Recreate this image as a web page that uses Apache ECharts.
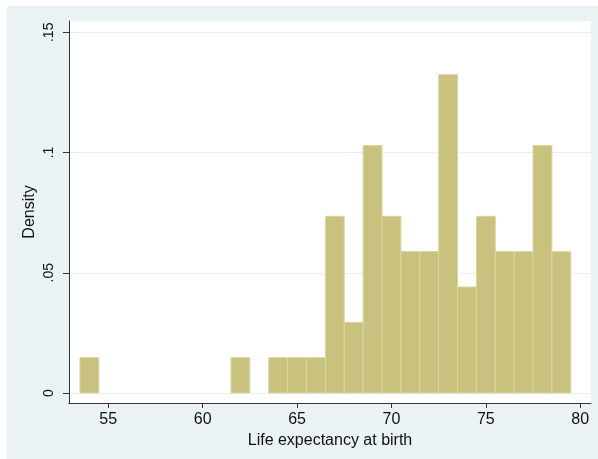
<!DOCTYPE html>
<html>
<head>
<meta charset="utf-8">
<script src="https://cdn.jsdelivr.net/npm/echarts@6/dist/echarts.min.js"></script>
<style>
html,body{margin:0;padding:0;background:#ffffff;}
#chart{width:598px;height:459px;}
</style>
</head>
<body>
<div id="chart"></div>
<script>
// Bin centers (years), bin width 1
const binCenters = [54, 62, 64, 65, 66, 67, 68, 69, 70, 71, 72, 73, 74, 75, 76, 77, 78, 79];
// Density
const densities = [0.0147, 0.0147, 0.0147, 0.0147, 0.0147, 0.0735, 0.0294, 0.1029, 0.0735, 0.0588, 0.0588, 0.1324, 0.0441, 0.0735, 0.0588, 0.0588, 0.1029, 0.0588];
const binWidth = 1;
// Tick values and labels
const xTicks = [55, 60, 65, 70, 75, 80];
const xTickLabels = ['55', '60', '65', '70', '75', '80'];
const yTicks = [0, 0.05, 0.1, 0.15];
const yTickLabels = ['0', '.05', '.1', '.15'];
const xTitle = 'Life expectancy at birth';
const yTitle = 'Density';

const chart = echarts.init(document.getElementById('chart'), null, {renderer: 'canvas'});
const font = 'Liberation Sans, Arial, sans-serif';
const data = binCenters.map((c, i) => [c, densities[i]]);

function labelFor(ticks, labels) {
  return function (v) {
    for (let i = 0; i < ticks.length; i++) {
      if (Math.abs(ticks[i] - v) < 1e-9) return labels[i];
    }
    return '';
  };
}

chart.setOption({
  backgroundColor: 'transparent',
  animation: false,
  graphic: [{
    type: 'rect', z: -10, silent: true,
    shape: {x: 7, y: 6, width: 591, height: 453},
    style: {fill: '#EAF2F3'}
  }],
  grid: {
    left: 69, right: 7, top: 21, bottom: 56,
    show: true, backgroundColor: '#ffffff', borderWidth: 0
  },
  xAxis: {
    type: 'value',
    min: 52.92, max: 80.57,
    name: xTitle,
    nameLocation: 'middle',
    nameGap: 30,
    nameMoveOverlap: false,
    nameTextStyle: {fontFamily: font, fontSize: 16, color: '#111'},
    axisLine: {show: true, onZero: false, lineStyle: {color: '#333', width: 1}},
    axisTick: {show: true, length: 5, customValues: xTicks, lineStyle: {color: '#333'}},
    axisLabel: {
      customValues: xTicks, margin: 9,
      fontFamily: font, fontSize: 16, color: '#111',
      formatter: labelFor(xTicks, xTickLabels)
    },
    splitLine: {show: false}
  },
  yAxis: {
    type: 'value',
    min: -0.00416, max: 0.1547,
    name: yTitle,
    nameLocation: 'middle',
    nameGap: 31,
    nameMoveOverlap: false,
    nameRotate: 90,
    nameTextStyle: {fontFamily: font, fontSize: 16, color: '#111'},
    axisLine: {show: true, onZero: false, lineStyle: {color: '#333', width: 1}},
    axisTick: {show: true, length: 6, customValues: yTicks, lineStyle: {color: '#333'}},
    axisLabel: {
      customValues: yTicks, margin: 13, rotate: 90,
      fontFamily: font, fontSize: 14, color: '#111',
      formatter: labelFor(yTicks, yTickLabels)
    },
    splitLine: {show: true, lineStyle: {color: '#E6EEF1', width: 1}}
  },
  series: [{
    type: 'custom',
    data: data,
    encode: {x: 0, y: 1},
    renderItem: function (params, api) {
      const c = api.value(0), d = api.value(1);
      const p1 = api.coord([c - binWidth / 2, d]);
      const p2 = api.coord([c + binWidth / 2, 0]);
      return {
        type: 'rect',
        shape: {x: p1[0], y: p1[1], width: p2[0] - p1[0], height: p2[1] - p1[1]},
        style: {fill: '#C9C27E', stroke: '#DAD5A0', lineWidth: 1}
      };
    }
  }]
});
</script>
</body>
</html>
